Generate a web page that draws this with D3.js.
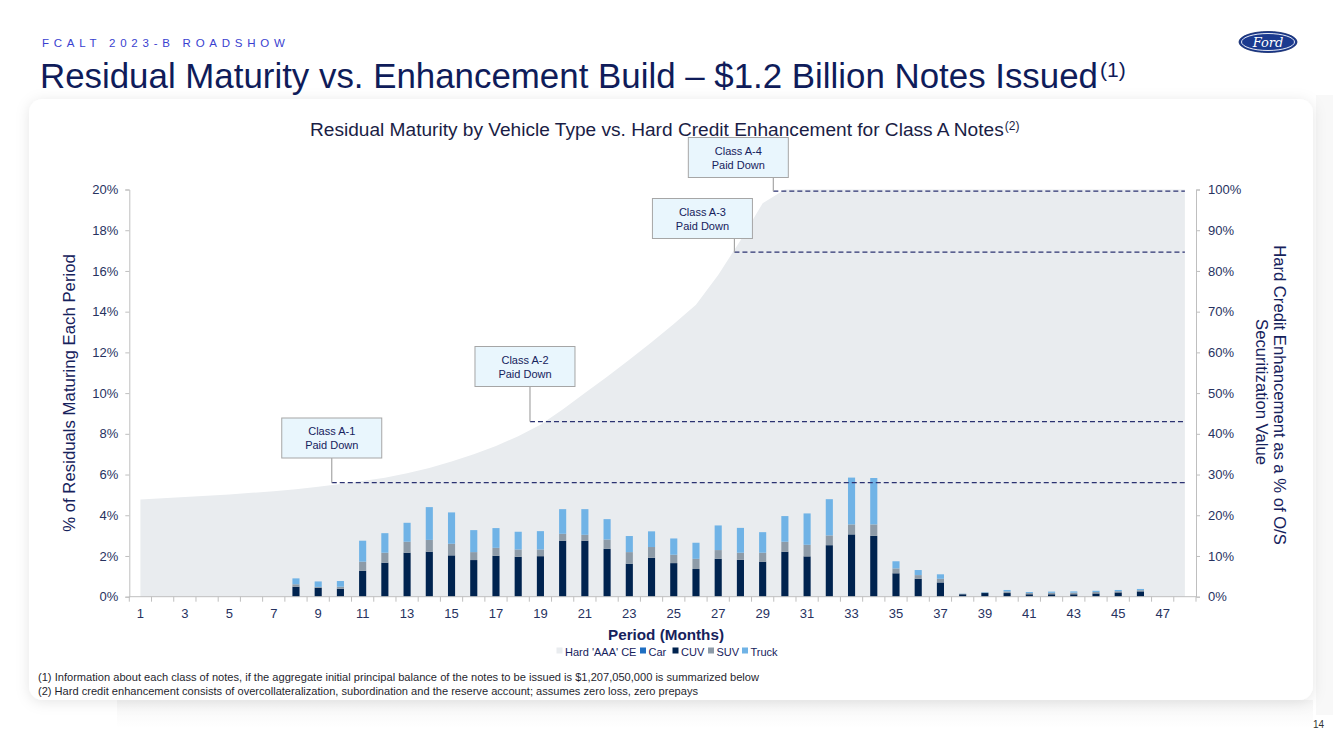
<!DOCTYPE html>
<html><head><meta charset="utf-8">
<script src="https://cdn.jsdelivr.net/npm/d3@7"></script>
<style>
html,body{margin:0;padding:0;background:#fff;}
svg{display:block;font-family:"Liberation Sans",Arial,Helvetica,sans-serif;}
</style></head>
<body>
<svg id="chart" width="1333" height="749"></svg>
<script>
// ---------- DATA ----------
const periods = [1,2,3,4,5,6,7,8,9,10,11,12,13,14,15,16,17,18,19,20,21,22,23,24,25,26,27,28,29,30,31,32,33,34,35,36,37,38,39,40,41,42,43,44,45,46,47,48];
const xTickLabels = [1,3,5,7,9,11,13,15,17,19,21,23,25,27,29,31,33,35,37,39,41,43,45,47];
const leftTicks = [0,0.02,0.04,0.06,0.08,0.10,0.12,0.14,0.16,0.18,0.20];
const rightTicks = [0,0.1,0.2,0.3,0.4,0.5,0.6,0.7,0.8,0.9,1.0];
// % of residuals maturing each period (percent points)
const car   = [0,0,0,0,0,0,0,0,0,0,0,0,0,0,0,0,0,0,0,0,0,0,0,0,0,0,0,0,0,0,0,0,0,0,0,0,0,0,0,0,0,0,0,0,0,0,0,0];
const cuv   = [0,0,0,0,0,0,0,0.49,0.44,0.39,1.27,1.67,2.16,2.21,2.03,1.80,2.01,1.96,1.99,2.75,2.75,2.35,1.62,1.91,1.65,1.36,1.86,1.81,1.72,2.21,1.98,2.53,3.06,2.99,1.15,0.88,0.70,0.12,0.18,0.18,0.12,0.12,0.12,0.16,0.21,0.26,0,0];
const suv   = [0,0,0,0,0,0,0,0.12,0.04,0.10,0.45,0.49,0.54,0.58,0.57,0.39,0.39,0.36,0.33,0.34,0.29,0.46,0.57,0.53,0.41,0.50,0.43,0.35,0.44,0.49,0.57,0.48,0.49,0.56,0.24,0.18,0.18,0.02,0.03,0.08,0.06,0.07,0.08,0.07,0.06,0.06,0,0];
const truck = [0,0,0,0,0,0,0,0.29,0.27,0.28,1.03,0.96,0.93,1.61,1.54,1.08,0.97,0.87,0.90,1.21,1.26,1.00,0.79,0.77,0.80,0.79,1.21,1.22,1.01,1.26,1.54,1.78,2.30,2.28,0.35,0.25,0.22,0.01,0.02,0.07,0.05,0.06,0.06,0.06,0.06,0.06,0,0];
// Hard 'AAA' credit enhancement, % of O/S securitization value
const hardCE = [23.9,24.2,24.5,24.8,25.1,25.5,25.9,26.4,27.0,27.7,28.4,29.2,30.3,31.6,33.2,35.0,37.0,39.4,42.2,46.0,50.0,54.0,58.2,62.5,67.0,71.7,79.0,87.5,96.6,100,100,100,100,100,100,100,100,100,100,100,100,100,100,100,100,100,100,100];
// Class paydown callouts: period at which paid down and CE level
const calloutNames  = ["Class A-1","Class A-2","Class A-3","Class A-4"];
const calloutPeriod = [9.61, 18.53, 27.73, 29.48];
const calloutCE     = [28.0, 43.0, 84.6, 99.6];

const seriesNames  = ["Car","CUV","SUV","Truck"];
const seriesColors = ["#1f6fc2","#00234f","#8d9ba8","#70b3e6"];
const legendNames  = ["Hard 'AAA' CE","Car","CUV","SUV","Truck"];
const legendColors = ["#e9ecef","#1f6fc2","#00234f","#8d9ba8","#70b3e6"];

// ---------- LAYOUT ----------
const W = 1333, H = 749;
const plot = {left:129.3, right:1196, top:189.5, bottom:596.7};
const navy = "#16225c", tickCol = "#27325f", axisCol = "#bfbfbf";
const calloutBox = [{dx:0,top:418},{dx:-5,top:346.5},{dx:-32,top:198.5},{dx:-35,top:137.5}];

const svg = d3.select("#chart");
const defs = svg.append("defs");
const f = defs.append("filter").attr("id","sh").attr("x","-5%").attr("y","-5%").attr("width","110%").attr("height","115%");
f.append("feDropShadow").attr("dx",0).attr("dy",2).attr("stdDeviation",7).attr("flood-color","#000").attr("flood-opacity",0.10);
const g1 = defs.append("linearGradient").attr("id","fade").attr("x1",0).attr("x2",0).attr("y1",0).attr("y2",1);
g1.append("stop").attr("offset","0").attr("stop-color","#f6f6f6");
g1.append("stop").attr("offset","1").attr("stop-color","#ffffff");

svg.append("rect").attr("width",W).attr("height",H).attr("fill","#fff");
svg.append("rect").attr("x",1316).attr("y",95).attr("width",17).attr("height",620).attr("fill","#f8f8f8");
svg.append("rect").attr("x",117).attr("y",700).attr("width",1196).attr("height",28).attr("fill","url(#fade)");
svg.append("rect").attr("x",29).attr("y",99).attr("width",1284).attr("height",601).attr("rx",14)
  .attr("fill","#fff").attr("filter","url(#sh)");

function fit(sel, target){
  const w = sel.node().getComputedTextLength();
  const fs = parseFloat(sel.attr("font-size"));
  sel.attr("font-size", fs*target/w);
}

// header
svg.append("text").attr("x",42).attr("y",47).attr("font-size",11.5).attr("fill","#3a3fd0")
  .attr("letter-spacing","4.75px").text("FCALT 2023-B ROADSHOW");
const title = svg.append("text").attr("x",40).attr("y",88).attr("fill","#0f1c5a").attr("font-size",30)
  .text("Residual Maturity vs. Enhancement Build \u2013 $1.2 Billion Notes Issued");
fit(title, 1058);
title.append("tspan").attr("dy",-11).attr("font-size",21).attr("dx",2).text("(1)");

// Ford logo
const logo = svg.append("g").attr("transform","translate(1268,42)");
logo.append("ellipse").attr("rx",29).attr("ry",10.5).attr("fill","#1b3a8f").attr("stroke","#0e2566").attr("stroke-width",0.8);
logo.append("ellipse").attr("rx",26.5).attr("ry",8.5).attr("fill","none").attr("stroke","#fff").attr("stroke-width",0.9);
logo.append("text").attr("text-anchor","middle").attr("y",4.5).attr("font-size",13).attr("font-style","italic")
  .attr("font-family","'DejaVu Serif',serif").attr("fill","#fff").text("Ford");

// chart title
const ct = svg.append("text").attr("x",310).attr("y",136).attr("fill","#1a1d45").attr("font-size",16)
  .text("Residual Maturity by Vehicle Type vs. Hard Credit Enhancement for Class A Notes");
fit(ct, 694);
ct.append("tspan").attr("dy",-6).attr("dx",1).attr("font-size",12).text("(2)");

// ---------- SCALES ----------
const x = d3.scaleBand().domain(periods).range([plot.left, plot.right]).padding(0);
const bw = x.bandwidth();
const xc = d => x(d) + bw/2;
const xp = d3.scaleLinear().domain([1,48]).range([xc(1), xc(48)]);
const yL = d3.scaleLinear().domain([0,0.20]).range([plot.bottom, plot.top]);
const yR = d3.scaleLinear().domain([0,1]).range([plot.bottom, plot.top]);

// area (secondary axis)
const area = d3.area().x((d,i)=>xc(periods[i])).y0(yR(0)).y1(d=>yR(d/100));
svg.append("path").datum(hardCE).attr("d",area).attr("fill","#e9ecef");

// stacked bars
const rows = periods.map((p,i)=>({p, Car:car[i]/100, CUV:cuv[i]/100, SUV:suv[i]/100, Truck:truck[i]/100}));
const stack = d3.stack().keys(seriesNames)(rows);
const barW = bw*0.32;
svg.append("g").selectAll("g").data(stack).join("g").attr("fill",(d,i)=>seriesColors[i])
  .selectAll("rect").data(d=>d).join("rect")
  .attr("x",d=>xc(d.data.p)-barW/2).attr("width",barW)
  .attr("y",d=>yL(d[1])).attr("height",d=>Math.max(0,yL(d[0])-yL(d[1])));

// axes
const axL = svg.append("g").attr("transform",`translate(${plot.left},0)`)
  .call(d3.axisLeft(yL).tickValues(leftTicks).tickFormat(d3.format(".0%")).tickSize(4).tickPadding(7));
const axR = svg.append("g").attr("transform",`translate(${plot.right},0)`)
  .call(d3.axisRight(yR).tickValues(rightTicks).tickFormat(d3.format(".0%")).tickSize(4).tickPadding(8));
const axB = svg.append("g").attr("transform",`translate(0,${plot.bottom})`)
  .call(d3.axisBottom(x).tickValues(xTickLabels).tickSize(0).tickPadding(12));
[axL,axR,axB].forEach(a=>{
  a.select(".domain").attr("stroke",axisCol);
  a.selectAll(".tick line").attr("stroke",axisCol);
  a.selectAll(".tick text").attr("fill",tickCol).attr("font-size",13).attr("font-family","'Liberation Sans',Arial,sans-serif");
});
axB.select(".domain").attr("d",`M${plot.left},0H${plot.right}`);
// category boundary tick marks
svg.append("g").selectAll("line").data(periods.concat([null])).join("line")
  .attr("x1",(d,i)=> i<periods.length ? x(d) : plot.right).attr("x2",(d,i)=> i<periods.length ? x(d) : plot.right)
  .attr("y1",plot.bottom).attr("y2",plot.bottom+5).attr("stroke",axisCol);

// callouts
calloutNames.forEach((name,i)=>{
  const ax = xp(calloutPeriod[i]), ay = yR(calloutCE[i]/100);
  const b = calloutBox[i], bwid = 100, bh = 40;
  const bx = ax - bwid/2 + b.dx;
  svg.append("line").attr("x1",ax).attr("x2",xc(48)).attr("y1",ay).attr("y2",ay)
    .attr("stroke","#2c3372").attr("stroke-width",1.3).attr("stroke-dasharray","5,3");
  svg.append("line").attr("x1",ax).attr("x2",ax).attr("y1",b.top+bh).attr("y2",ay)
    .attr("stroke","#a6a6a6").attr("stroke-width",1.2);
  svg.append("rect").attr("x",bx).attr("y",b.top).attr("width",bwid).attr("height",bh)
    .attr("fill","#e9f6fd").attr("stroke","#a6a6a6").attr("stroke-width",1);
  const t = svg.append("text").attr("x",bx+bwid/2).attr("text-anchor","middle").attr("font-size",11).attr("fill",navy);
  t.append("tspan").attr("x",bx+bwid/2).attr("y",b.top+17).text(name);
  t.append("tspan").attr("x",bx+bwid/2).attr("y",b.top+31).text("Paid Down");
});

// axis titles
const lt = svg.append("text").attr("transform","translate(75,393) rotate(-90)").attr("text-anchor","middle")
  .attr("font-size",14.5).attr("fill",navy).text("% of Residuals Maturing Each Period");
fit(lt, 278);
const rt1 = svg.append("text").attr("transform","translate(1274,395) rotate(90)").attr("text-anchor","middle")
  .attr("font-size",14.5).attr("fill",navy).text("Hard Credit Enhancement as a % of O/S");
fit(rt1, 300);
const rt2 = svg.append("text").attr("transform","translate(1256,392) rotate(90)").attr("text-anchor","middle")
  .attr("font-size",14.5).attr("fill",navy).text("Securitization Value");
rt2.attr("font-size", rt1.attr("font-size"));
const xt = svg.append("text").attr("x",666).attr("y",640).attr("text-anchor","middle").attr("font-weight","bold")
  .attr("font-size",14.5).attr("fill",navy).text("Period (Months)");
fit(xt, 116);

// legend
const legX = [556.5, 640, 672.5, 708, 742];
const lg = svg.append("g");
legendNames.forEach((n,i)=>{
  lg.append("rect").attr("x",legX[i]).attr("y",647.5).attr("width",6).attr("height",6).attr("fill",legendColors[i]);
  lg.append("text").attr("x",legX[i]+8.5).attr("y",655.5).attr("font-size",11).attr("fill",navy).text(n);
});

// footnotes
svg.append("text").attr("x",38).attr("y",681).attr("font-size",10.5).attr("fill","#1f1f2f")
  .attr("textLength",721).attr("lengthAdjust","spacingAndGlyphs")
  .text("(1) Information about each class of notes, if the aggregate initial principal balance of the notes to be issued is $1,207,050,000 is summarized below");
svg.append("text").attr("x",38).attr("y",695).attr("font-size",10.5).attr("fill","#1f1f2f")
  .attr("textLength",660).attr("lengthAdjust","spacingAndGlyphs")
  .text("(2) Hard credit enhancement consists of overcollateralization, subordination and the reserve account; assumes zero loss, zero prepays");
svg.append("text").attr("x",1324).attr("y",728).attr("text-anchor","end").attr("font-size",10).attr("fill","#333").text("14");
</script>
</body></html>
